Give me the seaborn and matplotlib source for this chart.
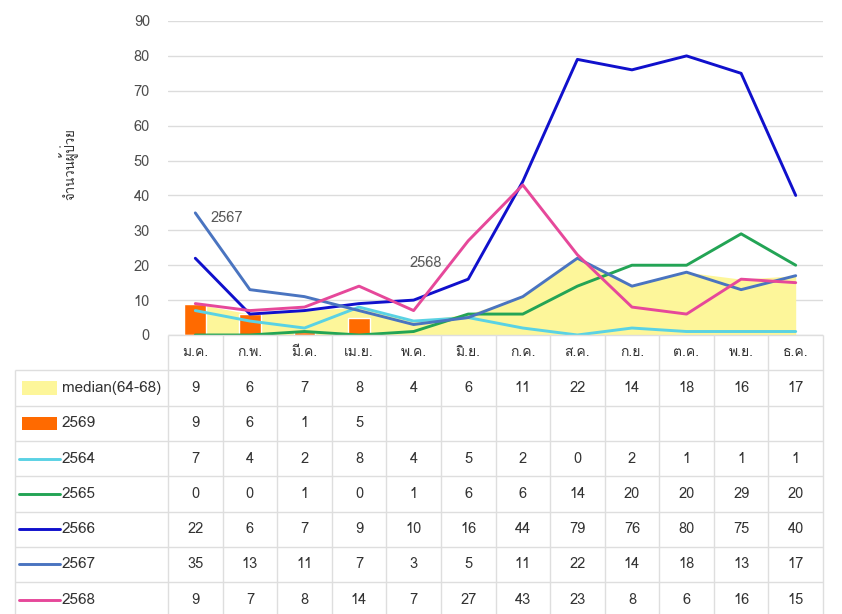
import matplotlib
matplotlib.use('Agg')
import matplotlib.pyplot as plt
import pandas as pd
import seaborn as sns
from matplotlib import font_manager
from matplotlib.ft2font import FT2Font

months = ['ม.ค.', 'ก.พ.', 'มี.ค.', 'เม.ย.', 'พ.ค.', 'มิ.ย.',
          'ก.ค.', 'ส.ค.', 'ก.ย.', 'ต.ค.', 'พ.ย.', 'ธ.ค.']
median_64_68 = [9, 6, 7, 8, 4, 6, 11, 22, 14, 18, 16, 17]
cases_2569 = [9, 6, 1, 5]
cases_2564 = [7, 4, 2, 8, 4, 5, 2, 0, 2, 1, 1, 1]
cases_2565 = [0, 0, 1, 0, 1, 6, 6, 14, 20, 20, 29, 20]
cases_2566 = [22, 6, 7, 9, 10, 16, 44, 79, 76, 80, 75, 40]
cases_2567 = [35, 13, 11, 7, 3, 5, 11, 22, 14, 18, 13, 17]
cases_2568 = [9, 7, 8, 14, 7, 27, 43, 23, 8, 6, 16, 15]

line_years = ['2564', '2565', '2566', '2567', '2568']
line_values = [cases_2564, cases_2565, cases_2566, cases_2567, cases_2568]
colors = {'2564': '#5ad2e4', '2565': '#23a455', '2566': '#1010cc',
          '2567': '#4a74c0', '2568': '#e6489a'}
median_color = '#fdf69a'
bar_color = '#ff6a00'
text_c = '#333333'

sns.set_theme(style='white')

# find an installed font that has Thai glyphs
thai_font = None
for f in font_manager.fontManager.ttflist:
    try:
        if 0x0E08 in FT2Font(f.fname).get_charmap():
            thai_font = f.name
            break
    except Exception:
        pass
families = [thai_font, 'DejaVu Sans'] if thai_font else ['DejaVu Sans']
plt.rcParams['font.family'] = families

W, H = 842, 614
fig = plt.figure(figsize=(W / 100, H / 100), dpi=100)
fig.patch.set_facecolor('white')

# chart axes
x0, x1 = 168, 823
ax = fig.add_axes([x0 / W, (H - 335) / H, (x1 - x0) / W, (335 - 21) / H])

xs = list(range(len(months)))
ax.fill_between(xs, median_64_68, color=median_color, lw=0, zorder=1)
ax.bar(xs[:len(cases_2569)], cases_2569, width=0.4, color=bar_color, zorder=2)

df = pd.DataFrame({
    'month': xs * len(line_years),
    'cases': [v for vals in line_values for v in vals],
    'year': [y for y in line_years for _ in xs],
})
sns.lineplot(data=df, x='month', y='cases', hue='year', palette=colors,
             linewidth=2.1, legend=False, ax=ax, zorder=3)

ax.text(0.27, 33.5, '2567', color='#595959', fontsize=10.5, va='center')
ax.text(3.93, 20.6, '2568', color='#595959', fontsize=10.5, va='center')

ax.set_xlim(-0.5, 11.5)
ax.set_ylim(0, 90)
ax.set_yticks(range(0, 91, 10))
ax.set_xticks([])
ax.set_xlabel('')
ax.set_ylabel('จำนวนผู้ป่วย', fontsize=9.5, color=text_c)
ax.yaxis.set_label_coords(-0.137, 0.545)
ax.tick_params(axis='y', length=0, pad=13, labelsize=10.5, labelcolor='#4d4d4d')
ax.grid(axis='y', color='#dcdcdc', linewidth=1)
ax.set_axisbelow(True)
for s in ax.spines.values():
    s.set_visible(False)

# data table below the chart
row_h = 35.3
n_rows = 8
tab = fig.add_axes([x0 / W, (H - 335 - n_rows * row_h) / H,
                    (x1 - x0) / W, n_rows * row_h / H])
tab.set_xlim(-0.5, 11.5)
tab.set_ylim(n_rows, 0)
tab.axis('off')
col_w = (x1 - x0) / 12
left = -0.5 - (x0 - 15) / col_w
grid_c = '#dedede'

tab.hlines(0, -0.5, 11.5, color=grid_c, lw=1, clip_on=False)
tab.hlines(range(1, n_rows + 1), left, 11.5, color=grid_c, lw=1, clip_on=False)
tab.vlines([k - 0.5 for k in range(13)], 0, n_rows, color=grid_c, lw=1, clip_on=False)
tab.vlines(left, 1, n_rows, color=grid_c, lw=1, clip_on=False)

for i, m in enumerate(months):
    tab.text(i, 0.5, m, ha='center', va='center', fontsize=10, color=text_c)

rows = [('median(64-68)', median_64_68), ('2569', cases_2569)] + list(zip(line_years, line_values))
sw0 = left + (22 - 15) / col_w
sw1 = left + (57 - 15) / col_w
tx = left + (62 - 15) / col_w
for r, (name, vals) in enumerate(rows, start=1):
    yc = r + 0.5
    if name == 'median(64-68)':
        tab.fill_between([sw0, sw1], yc - 0.19, yc + 0.19, color=median_color, lw=0, clip_on=False)
    elif name == '2569':
        tab.fill_between([sw0, sw1], yc - 0.19, yc + 0.19, color=bar_color, lw=0, clip_on=False)
    else:
        tab.plot([sw0 - 0.05, sw1 + 0.05], [yc, yc], color=colors[name], lw=2.1, clip_on=False)
    tab.text(tx, yc, name, ha='left', va='center', fontsize=11, color=text_c, clip_on=False)
    for i, v in enumerate(vals):
        tab.text(i, yc, str(v), ha='center', va='center', fontsize=10.5, color=text_c)

fig.savefig('out.png', dpi=100)
